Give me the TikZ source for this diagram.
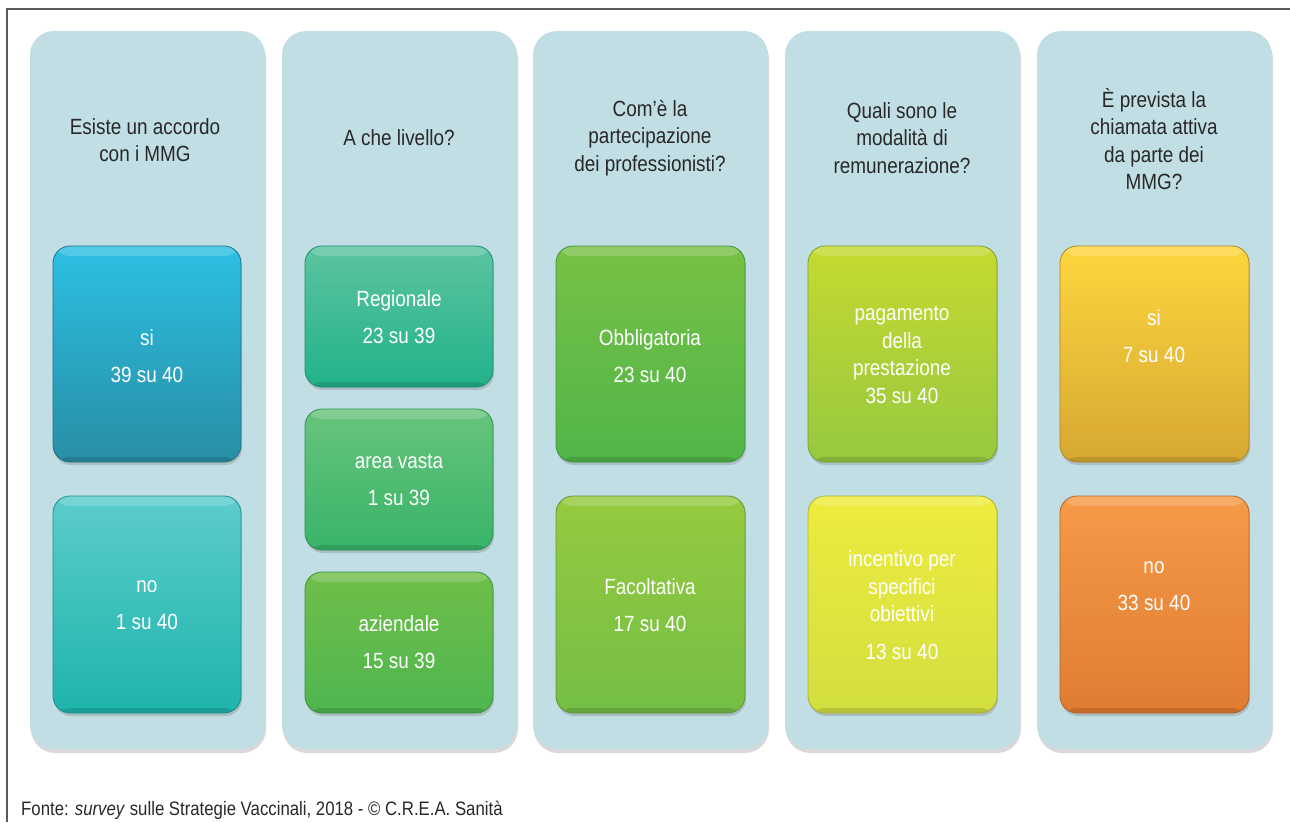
\documentclass[tikz,border=0pt]{standalone}
\usepackage{fontspec}
\setmainfont{Liberation Sans}[FakeStretch=0.86]
\usetikzlibrary{shadows}

\definecolor{panelblue}{RGB}{193,222,228}
\definecolor{headgray}{RGB}{40,40,40}
\definecolor{framegray}{RGB}{90,90,90}
% colori dei riquadri (alto / basso)
\definecolor{siA}{RGB}{44,192,228}
\definecolor{siB}{RGB}{40,142,164}
\definecolor{noA}{RGB}{92,204,204}
\definecolor{noB}{RGB}{30,180,172}
\definecolor{regA}{RGB}{92,196,160}
\definecolor{regB}{RGB}{34,178,138}
\definecolor{areaA}{RGB}{104,196,124}
\definecolor{areaB}{RGB}{56,180,104}
\definecolor{azA}{RGB}{112,190,72}
\definecolor{azB}{RGB}{78,182,80}
\definecolor{obbA}{RGB}{120,192,70}
\definecolor{obbB}{RGB}{80,182,72}
\definecolor{facA}{RGB}{150,202,62}
\definecolor{facB}{RGB}{116,190,70}
\definecolor{pagA}{RGB}{198,218,48}
\definecolor{pagB}{RGB}{150,200,64}
\definecolor{incA}{RGB}{238,236,62}
\definecolor{incB}{RGB}{210,222,64}
\definecolor{siveA}{RGB}{254,214,62}
\definecolor{siveB}{RGB}{214,168,50}
\definecolor{noveA}{RGB}{246,154,72}
\definecolor{noveB}{RGB}{224,124,50}

\begin{document}
\begin{tikzpicture}[x=1pt,y=-1pt,
    panel/.style={fill=panelblue, rounded corners=24pt,
      drop shadow={shadow xshift=1pt, shadow yshift=-4pt, opacity=.3}},
    box/.style={rounded corners=17pt, line width=.8pt,
      drop shadow={shadow xshift=1pt, shadow yshift=-3pt, opacity=.35},
      path picture={
        \fill[white, opacity=.18] (path picture bounding box.north west) rectangle ([yshift=-10pt]path picture bounding box.north east);
        \fill[black, opacity=.12] ([yshift=5pt]path picture bounding box.south west) rectangle (path picture bounding box.south east);}},
    head/.style={font=\fontsize{22}{27.5}\selectfont, text=headgray, align=center},
    lbl/.style={font=\fontsize{22}{27.5}\selectfont, text=white, align=center}]

    \useasboundingbox (0,0) rectangle (1290,822);

    % cornice
    \draw[line width=1.4pt, framegray] (7,822) -- (7,9) -- (1290,9);

    % colonne
    \foreach \x in {30,282,533,785,1037}
        \fill[panel] (\x,31) rectangle ++(235,718);

    % domande
    \node[head] (q1) at (145,140) {Esiste un accordo\\con i MMG};
    \node[head] (q2) at (399,138) {A che livello?};
    \node[head] (q3) at (650,138) {Com'è la\\partecipazione\\dei professionisti?};
    \node[head] (q4) at (902,138) {Quali sono le\\modalità di\\remunerazione?};
    \node[head] (q5) at (1154,139) {È prevista la\\chiamata attiva\\da parte dei\\MMG?};

    % riquadri
    \path[box, draw=siB!80!black, top color=siA, bottom color=siB] (53,246) rectangle (241,462);
    \path[box, draw=noB!80!black, top color=noA, bottom color=noB] (53,496) rectangle (241,713);
    \path[box, draw=regB!80!black, top color=regA, bottom color=regB] (305,246) rectangle (493,387);
    \path[box, draw=areaB!80!black, top color=areaA, bottom color=areaB] (305,409) rectangle (493,550);
    \path[box, draw=azB!80!black, top color=azA, bottom color=azB] (305,572) rectangle (493,713);
    \path[box, draw=obbB!80!black, top color=obbA, bottom color=obbB] (556,246) rectangle (745,462);
    \path[box, draw=facB!80!black, top color=facA, bottom color=facB] (556,496) rectangle (745,713);
    \path[box, draw=pagB!80!black, top color=pagA, bottom color=pagB] (808,246) rectangle (997,462);
    \path[box, draw=incB!80!black, top color=incA, bottom color=incB] (808,496) rectangle (997,713);
    \path[box, draw=siveB!80!black, top color=siveA, bottom color=siveB] (1060,246) rectangle (1249,462);
    \path[box, draw=noveB!80!black, top color=noveA, bottom color=noveB] (1060,496) rectangle (1249,713);

    % risposte
    \node[lbl] (si1) at (147,356) {si\\[10pt]39 su 40};
    \node[lbl] (no1) at (147,605) {no\\[10pt]1 su 40};
    \node[lbl] (reg) at (399,317) {Regionale\\[10pt]23 su 39};
    \node[lbl] (area) at (399,480) {area vasta\\[10pt]1 su 39};
    \node[lbl] (az) at (399,642) {aziendale\\[10pt]15 su 39};
    \node[lbl] (obb) at (650,356) {Obbligatoria\\[10pt]23 su 40};
    \node[lbl] (fac) at (650,605) {Facoltativa\\[10pt]17 su 40};
    \node[lbl] (pag) at (902,355) {pagamento\\della\\prestazione\\ 35 su 40};
    \node[lbl] (inc) at (902,605) {incentivo per\\specifici\\obiettivi\\[10pt]13 su 40};
    \node[lbl] (si5) at (1154,336) {si\\[10pt]7 su 40};
    \node[lbl] (no5) at (1154,586) {no\\[10pt]33 su 40};

    % fonte
    \node[anchor=base west, font=\fontsize{19.5}{22}\selectfont, text=headgray, inner sep=0pt] (src) at (21,815)
        {Fonte: \textit{survey} sulle Strategie Vaccinali, 2018 - © C.R.E.A. Sanità};
\end{tikzpicture}
\end{document}
